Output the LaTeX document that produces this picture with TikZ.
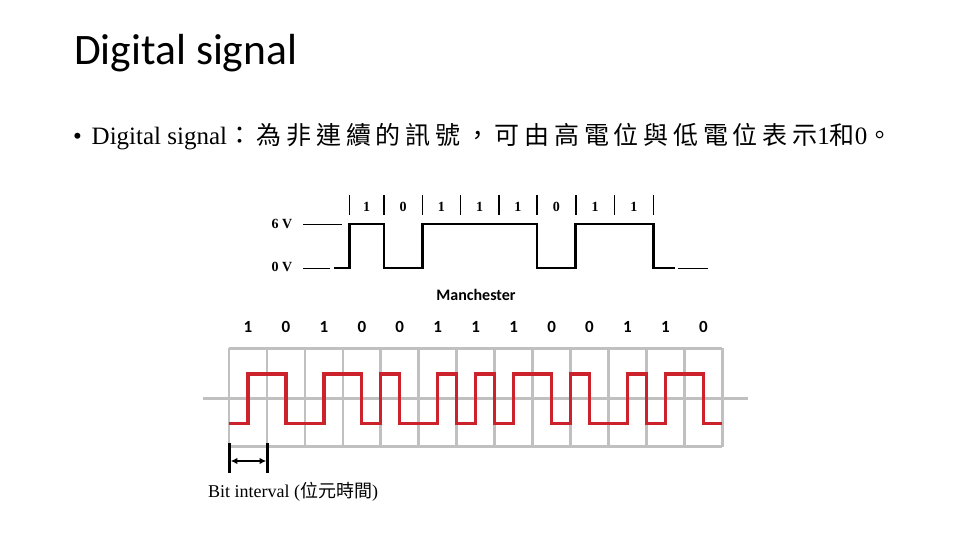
\documentclass[tikz,border=0pt]{standalone}
\usepackage{fontspec}
\setmainfont{Liberation Serif}
\newfontfamily\calibri{Carlito}
\newfontfamily\cjk[LetterSpace=19]{Noto Sans CJK TC}
\newfontfamily\cjkplain{Noto Sans CJK TC}
\usetikzlibrary{arrows.meta}
\definecolor{gridgray}{RGB}{192,192,192}
\definecolor{wavered}{RGB}{204,34,44}
\tikzset{
  gridline/.style={gridgray, line width=2.7pt},
  manwave/.style={wavered, line width=3.3pt},
  nrzwave/.style={black, line width=2.5pt},
  levelline/.style={black, line width=1pt},
  bittick/.style={black, line width=1.6pt},
  nrzlabel/.style={font=\fontsize{14}{16}\selectfont\bfseries, inner sep=0pt},
  manlabel/.style={font=\calibri\fontsize{17}{20}\selectfont\bfseries, inner sep=0pt}
}
\begin{document}
\begin{tikzpicture}[x=1pt, y=-1pt]
    \useasboundingbox (0,0) rectangle (960,540);
    % title and text line
    \node[anchor=base west, inner sep=0pt, font=\calibri\fontsize{43.5}{48}\selectfont] (title) at (74,65) {Digital signal};
    \node[anchor=base west, inner sep=0pt, font=\fontsize{25}{28}\selectfont] (bullet) at (73,145) {•};
    \node[anchor=base west, inner sep=0pt, font=\fontsize{25}{28}\selectfont] (line) at (91.5,145)
        {Digital signal{\cjk ：為非連續的訊號，可由高電位與低電位表示}1{\cjk 和}0{\cjk 。}};

    % NRZ signal
    \foreach \x in {349.3,384,422.3,460.3,498.7,537,575.7,614.3,653.3}
        \draw[bittick] (\x,195) -- (\x,215);
    \foreach \x/\b in {366.6/1,403.1/0,441.3/1,479.5/1,517.8/1,556.3/0,595/1,633.8/1}
        \node[nrzlabel] at (\x,207) {\b};
    \node[nrzlabel] (six) at (282,224) {6 V};
    \node[nrzlabel] (zero) at (282,267) {0 V};
    \draw[levelline] (303,224) -- (342,224);
    \draw[levelline] (303,268) -- (330,268);
    \draw[levelline] (678,268) -- (708,268);
    \draw[nrzwave] (334,268) -- (349.3,268) -- (349.3,224) -- (384,224) -- (384,268)
        -- (422.3,268) -- (422.3,224) -- (537,224) -- (537,268) -- (575.7,268)
        -- (575.7,224) -- (653.3,224) -- (653.3,268) -- (675,268);

    % Manchester
    \node[manlabel, font=\calibri\fontsize{16}{19}\selectfont\bfseries] (manch) at (476,295) {Manchester};
    \foreach \b [count=\i from 0] in {1,0,1,0,0,1,1,1,0,0,1,1,0}
        \node[manlabel] at ({229+(\i+0.5)*37.95},326.7) {\b};
    \draw[gridline] (203.3,398.3) -- (748.3,398.3);
    \foreach \i in {0,...,13}
        \draw[gridline] ({229+\i*37.95},348.3) -- ({229+\i*37.95},446.7);
    \draw[gridline] (229,348.3) -- (722.3,348.3);
    \draw[gridline] (229,446.7) -- (722.3,446.7);
    \draw[manwave] (229,423.3)
        \foreach \h [count=\i from 0] in {0,1,1,0,0,1,1,0,1,0,0,1,0,1,0,1,1,0,1,0,0,1,0,1,1,0}
        { -- ({229+\i*18.975},{423.3-\h*49.3}) -- ({229+(\i+1)*18.975},{423.3-\h*49.3}) };

    % bit interval
    \draw[black, line width=3pt] (229.3,443) -- (229.3,473);
    \draw[black, line width=3pt] (267.7,443) -- (267.7,473);
    \coordinate (bl) at (230.8,461);
    \coordinate (br) at (266.2,461);
    \draw[black, line width=2.2pt, {Latex[length=6.5pt,width=6.5pt]}-{Latex[length=6.5pt,width=6.5pt]}] (bl) -- (br);
    \node[anchor=base west, inner sep=0pt, font=\fontsize{18}{21}\selectfont] (bitint) at (208,497)
        {Bit interval ({\cjkplain 位元時間})};
\end{tikzpicture}
\end{document}
